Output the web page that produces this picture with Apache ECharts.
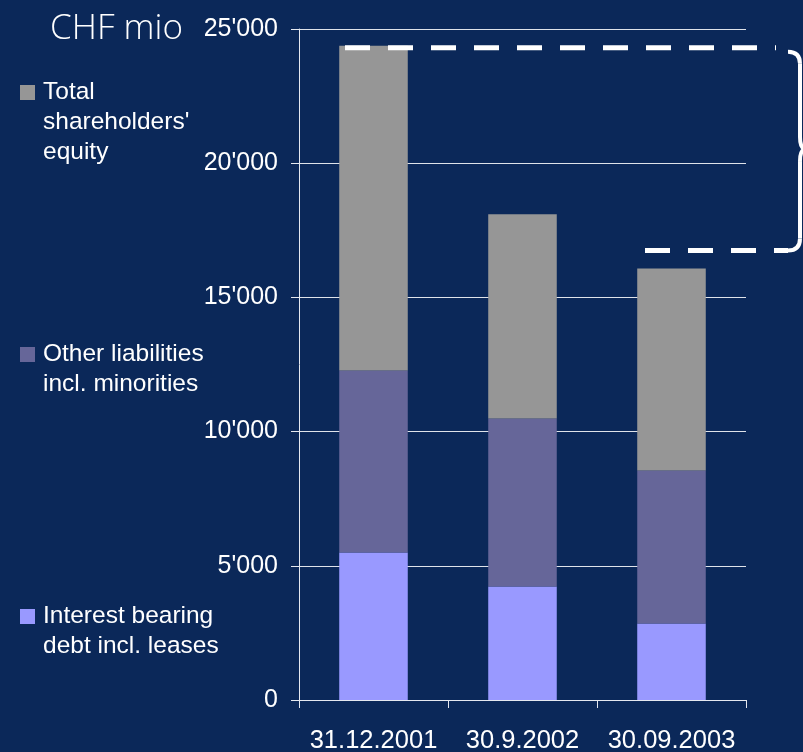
<!DOCTYPE html>
<html>
<head>
<meta charset="utf-8">
<script src="https://cdn.jsdelivr.net/npm/echarts@6/dist/echarts.min.js"></script>
<style>
  html, body { margin: 0; padding: 0; background: #0b2859; }
  #chart { width: 803px; height: 752px; }
</style>
</head>
<body>
<div id="chart"></div>
<script>
const categories = ['31.12.2001', '30.9.2002', '30.09.2003']
const debt = [5500, 4230, 2850]
const otherLiab = [6780, 6260, 5700]
const equity = [12100, 7610, 7530]
const yTicks = [0, 5000, 10000, 15000, 20000, 25000]

// levels used to place the dashed bracket lines
const topLevel = debt[0] + otherLiab[0] + equity[0]
const lowLevel = 16750

const names = {
  'Total shareholders\' equity': ['Total', 'shareholders\'', 'equity'],
  'Other liabilities incl. minorities': ['Other liabilities', 'incl. minorities'],
  'Interest bearing debt incl. leases': ['Interest bearing', 'debt incl. leases']
}
const textFont = 'Liberation Sans, Arial, sans-serif'

// legend text is centred on the icon, so pad with blank lines above
// to keep the icon next to the first line
function legendFor(name, iconTop) {
  const lines = names[name]
  const pad = lines.length - 1
  return {
    data: [name],
    left: 20,
    top: iconTop + 7.5 - (2 * pad + 1) * 15,
    padding: 0,
    orient: 'vertical',
    selectedMode: false,
    itemWidth: 15,
    itemHeight: 15,
    icon: 'rect',
    formatter: n => '\n'.repeat(pad) + names[n].join('\n'),
    textStyle: {
      color: '#ffffff',
      fontSize: 24.5,
      fontFamily: textFont,
      lineHeight: 30,
      padding: [0, 0, 0, 3]
    }
  }
}

const chart = echarts.init(document.getElementById('chart'))
const option = {
  backgroundColor: '#0b2859',
  animation: false,
  title: {
    text: 'CHF mio',
    left: 45,
    top: 7,
    textStyle: { color: '#ffffff', fontSize: 35, fontWeight: 300, fontFamily: 'Open Sans, sans-serif' }
  },
  legend: [
    legendFor('Total shareholders\' equity', 85),
    legendFor('Other liabilities incl. minorities', 347),
    legendFor('Interest bearing debt incl. leases', 609)
  ],
  grid: { left: 299, right: 57, top: 29, bottom: 52, outerBoundsMode: 'none' },
  xAxis: {
    type: 'category',
    data: categories,
    axisLine: { lineStyle: { color: '#e6e9f0', width: 1 } },
    axisTick: { show: true, length: 8, lineStyle: { color: '#e6e9f0' } },
    axisLabel: { color: '#ffffff', fontSize: 25.5, fontFamily: textFont, margin: 28, interval: 0, hideOverlap: false }
  },
  yAxis: {
    type: 'value',
    min: 0,
    max: yTicks[yTicks.length - 1],
    interval: 5000,
    axisLine: { show: true, lineStyle: { color: '#e6e9f0', width: 1 } },
    axisTick: { show: true, length: 8, lineStyle: { color: '#e6e9f0' } },
    axisLabel: {
      color: '#ffffff',
      fontSize: 25,
      fontFamily: textFont,
      margin: 21,
      formatter: v => String(v).replace(/\B(?=(\d{3})+(?!\d))/g, "'")
    },
    splitLine: { show: true, lineStyle: { color: '#dfe3ea', width: 1 } }
  },
  series: [
    {
      name: 'Interest bearing debt incl. leases',
      type: 'bar', stack: 'a', barWidth: '46%',
      itemStyle: { color: '#9999ff' },
      data: debt
    },
    {
      name: 'Other liabilities incl. minorities',
      type: 'bar', stack: 'a', barWidth: '46%',
      itemStyle: { color: '#666699' },
      data: otherLiab
    },
    {
      name: 'Total shareholders\' equity',
      type: 'bar', stack: 'a', barWidth: '46%',
      itemStyle: { color: '#969696' },
      data: equity
    }
  ]
}
chart.setOption(option)

// dashed bracket + curly brace annotation on the right
const yTop = chart.convertToPixel({ yAxisIndex: 0 }, topLevel) + 2
const yLow = chart.convertToPixel({ yAxisIndex: 0 }, lowLevel)
const xB = 800
const yMid = (yTop + yLow) / 2
const dashStyle = { stroke: '#ffffff', lineWidth: 5, lineDash: [25, 18] }
const braceStyle = { stroke: '#ffffff', lineWidth: 4, fill: null }
chart.setOption({
  graphic: [
    { type: 'line', shape: { x1: 345, y1: yTop, x2: 776, y2: yTop }, style: dashStyle, z: 100 },
    { type: 'line', shape: { x1: 645, y1: yLow, x2: 788, y2: yLow }, style: dashStyle, z: 100 },
    { type: 'bezierCurve', z: 100, style: braceStyle,
      shape: { x1: 788, y1: yTop + 4, cpx1: xB, cpy1: yTop + 4, x2: xB, y2: yTop + 16 } },
    { type: 'line', z: 100, style: braceStyle,
      shape: { x1: xB, y1: yTop + 16, x2: xB, y2: yMid - 12 } },
    { type: 'bezierCurve', z: 100, style: braceStyle,
      shape: { x1: xB, y1: yMid - 12, cpx1: xB, cpy1: yMid, x2: xB + 6, y2: yMid } },
    { type: 'bezierCurve', z: 100, style: braceStyle,
      shape: { x1: xB + 6, y1: yMid, cpx1: xB, cpy1: yMid, x2: xB, y2: yMid + 12 } },
    { type: 'line', z: 100, style: braceStyle,
      shape: { x1: xB, y1: yMid + 12, x2: xB, y2: yLow - 12 } },
    { type: 'bezierCurve', z: 100, style: braceStyle,
      shape: { x1: xB, y1: yLow - 12, cpx1: xB, cpy1: yLow, x2: xB - 12, y2: yLow } }
  ]
})
window.addEventListener('resize', () => {
  chart.resize()
})
</script>
</body>
</html>
